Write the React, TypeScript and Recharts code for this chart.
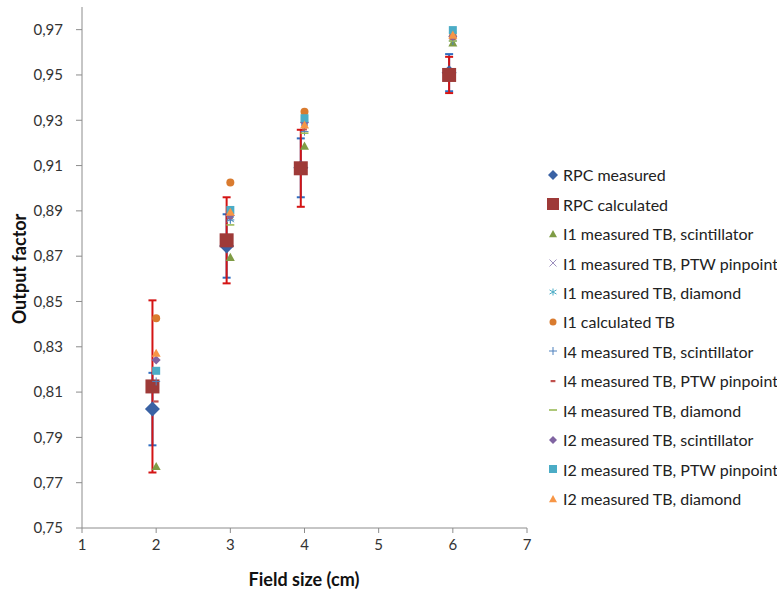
import React from 'react';
import { ScatterChart, Scatter, XAxis, YAxis, ErrorBar, Legend } from 'recharts';

// field sizes (cm); RPC points sit slightly left of the institution points
const sizes = [2, 3, 4, 6];
const rpcSizes = [1.95, 2.95, 3.95, 5.95];

const rpcMeasured = [0.8025, 0.8745, 0.909, 0.951];
const rpcMeasuredErr = [0.016, 0.014, 0.013, 0.0082];
const rpcCalculated = [0.8125, 0.877, 0.9088, 0.95];
const rpcCalculatedErr = [0.038, 0.019, 0.017, 0.008];

// null = no visible point at that field size
const i1Scintillator = [0.7772, 0.8695, 0.9186, 0.9642];
const i1Pinpoint = [null, 0.8865, 0.929, 0.967];
const i1Diamond = [null, 0.8862, 0.929, 0.968];
const i1Calculated = [0.8426, 0.9025, 0.9338, 0.967];
const i4Scintillator = [0.8147, 0.886, 0.925, 0.965];
const i4Pinpoint = [0.8059, 0.887, 0.926, 0.966];
const i4Diamond = [null, 0.8838, 0.9243, 0.965];
const i2Scintillator = [0.8242, 0.888, 0.929, 0.967];
const i2Pinpoint = [0.8194, 0.8904, 0.9309, 0.9698];
const i2Diamond = [0.8272, 0.8894, 0.9279, 0.9676];

const xTicks = [1, 2, 3, 4, 5, 6, 7];
const yTicks = [0.75, 0.77, 0.79, 0.81, 0.83, 0.85, 0.87, 0.89, 0.91, 0.93, 0.95, 0.97];

const FONT = 'Lato, "Noto Sans", sans-serif';

type Kind = 'diamond' | 'square' | 'triangle' | 'x' | 'star' | 'circle' | 'plus' | 'dash' | 'longdash';

function marker(kind: Kind, cx: number, cy: number, s: number, color: string) {
  const h = s / 2;
  switch (kind) {
    case 'diamond':
      return <polygon points={`${cx},${cy - h} ${cx + h},${cy} ${cx},${cy + h} ${cx - h},${cy}`} fill={color} />;
    case 'square':
      return <rect x={cx - h} y={cy - h} width={s} height={s} fill={color} />;
    case 'triangle':
      return <polygon points={`${cx},${cy - h} ${cx + h},${cy + h * 0.8} ${cx - h},${cy + h * 0.8}`} fill={color} />;
    case 'circle':
      return <circle cx={cx} cy={cy} r={h} fill={color} />;
    case 'x':
      return (
        <g stroke={color} strokeWidth={1}>
          <line x1={cx - h} y1={cy - h} x2={cx + h} y2={cy + h} />
          <line x1={cx - h} y1={cy + h} x2={cx + h} y2={cy - h} />
        </g>
      );
    case 'star':
      return (
        <g stroke={color} strokeWidth={1}>
          <line x1={cx} y1={cy - h} x2={cx} y2={cy + h} />
          <line x1={cx - h} y1={cy - h * 0.6} x2={cx + h} y2={cy + h * 0.6} />
          <line x1={cx - h} y1={cy + h * 0.6} x2={cx + h} y2={cy - h * 0.6} />
        </g>
      );
    case 'plus':
      return (
        <g stroke={color} strokeWidth={1}>
          <line x1={cx} y1={cy - h} x2={cx} y2={cy + h} />
          <line x1={cx - h} y1={cy} x2={cx + h} y2={cy} />
        </g>
      );
    case 'dash':
      return <rect x={cx - h * 0.6} y={cy - 1} width={s * 0.6} height={2.2} fill={color} />;
    case 'longdash':
      return <rect x={cx - h} y={cy - 0.8} width={s} height={1.6} fill={color} />;
  }
}

interface Series {
  name: string;
  xs: number[];
  ys: (number | null)[];
  err?: number[];
  errColor?: string;
  kind: Kind;
  color: string;
  size: number;
  legendSize: number;
}

const series: Series[] = [
  { name: 'RPC measured', xs: rpcSizes, ys: rpcMeasured, err: rpcMeasuredErr, errColor: '#2f6dc0', kind: 'diamond', color: '#3a62a4', size: 15, legendSize: 10 },
  { name: 'RPC calculated', xs: rpcSizes, ys: rpcCalculated, err: rpcCalculatedErr, errColor: '#d41414', kind: 'square', color: '#9e3a38', size: 14, legendSize: 12 },
  { name: 'I1 measured TB, scintillator', xs: sizes, ys: i1Scintillator, kind: 'triangle', color: '#7f9c45', size: 9, legendSize: 8 },
  { name: 'I1 measured TB, PTW pinpoint', xs: sizes, ys: i1Pinpoint, kind: 'x', color: '#9d8fbe', size: 7, legendSize: 7 },
  { name: 'I1 measured TB, diamond', xs: sizes, ys: i1Diamond, kind: 'star', color: '#4bacc6', size: 7, legendSize: 7 },
  { name: 'I1 calculated TB', xs: sizes, ys: i1Calculated, kind: 'circle', color: '#d97b2f', size: 8, legendSize: 7 },
  { name: 'I4 measured TB, scintillator', xs: sizes, ys: i4Scintillator, kind: 'plus', color: '#4f81bd', size: 8, legendSize: 8 },
  { name: 'I4 measured TB, PTW pinpoint', xs: sizes, ys: i4Pinpoint, kind: 'dash', color: '#c0504d', size: 8, legendSize: 8 },
  { name: 'I4 measured TB, diamond', xs: sizes, ys: i4Diamond, kind: 'longdash', color: '#9bbb59', size: 8, legendSize: 8 },
  { name: 'I2 measured TB, scintillator', xs: sizes, ys: i2Scintillator, kind: 'diamond', color: '#8064a2', size: 9, legendSize: 8 },
  { name: 'I2 measured TB, PTW pinpoint', xs: sizes, ys: i2Pinpoint, kind: 'square', color: '#4bacc6', size: 8, legendSize: 8 },
  { name: 'I2 measured TB, diamond', xs: sizes, ys: i2Diamond, kind: 'triangle', color: '#f79646', size: 9, legendSize: 8 },
];

const LegendBox = () => (
  <div style={{ fontFamily: FONT, fontSize: 16, color: '#222' }}>
    {series.map((s) => (
      <div key={s.name} style={{ height: 29.45, display: 'flex', alignItems: 'center', whiteSpace: 'nowrap' }}>
        <svg width={16} height={14} style={{ flex: 'none' }}>
          {marker(s.kind, 8, 7, s.legendSize, s.color)}
        </svg>
        <span style={{ marginLeft: 2 }}>{s.name}</span>
      </div>
    ))}
  </div>
);

const fmt = (v: number) => v.toFixed(2).replace('.', ',');

export default function App() {
  return (
    <div style={{ position: 'absolute', left: 0, top: 0, width: 777, height: 592, background: '#fff', overflow: 'hidden' }}>
      <ScatterChart width={777} height={592} margin={{ top: 7, right: 18, bottom: 0, left: 0 }}>
        <XAxis
          type="number"
          dataKey="x"
          domain={[1, 7]}
          ticks={xTicks}
          interval={0}
          height={64}
          tickSize={5}
          tickMargin={6}
          stroke="#8c8c8c"
          tick={{ fill: '#333', fontSize: 15, fontFamily: FONT }}
        />
        <YAxis
          type="number"
          dataKey="y"
          domain={[0.75, 0.98]}
          ticks={yTicks}
          interval={0}
          width={82}
          tickSize={6}
          tickMargin={13}
          tickFormatter={fmt}
          stroke="#8c8c8c"
          tick={{ fill: '#333', fontSize: 15, fontFamily: FONT }}
        />
        {series.map((s) => (
          <Scatter
            key={s.name}
            name={s.name}
            data={s.xs
              .map((x, i) => ({ x, y: s.ys[i], err: s.err ? s.err[i] : 0 }))
              .filter((d) => d.y !== null)}
            isAnimationActive={false}
            shape={(p: any) => marker(s.kind, p.cx, p.cy, s.size, s.color)}
          >
            {s.err && (
              <ErrorBar dataKey="err" direction="y" width={4} stroke={s.errColor} strokeWidth={2} />
            )}
          </Scatter>
        ))}
        <Legend
          layout="horizontal"
          align="right"
          verticalAlign="middle"
          content={() => <LegendBox />}
          wrapperStyle={{ left: 545, top: 160, width: 232 }}
        />
      </ScatterChart>
      <div
        style={{
          position: 'absolute',
          left: 19,
          top: 269,
          transform: 'translate(-50%, -50%) rotate(-90deg)',
          fontFamily: FONT,
          fontWeight: 'bold',
          fontSize: 18,
          color: '#111',
          whiteSpace: 'nowrap',
        }}
      >
        Output factor
      </div>
      <div
        style={{
          position: 'absolute',
          left: 304,
          top: 579,
          transform: 'translate(-50%, -50%)',
          fontFamily: FONT,
          fontWeight: 'bold',
          fontSize: 18,
          color: '#111',
          whiteSpace: 'nowrap',
        }}
      >
        Field size (cm)
      </div>
    </div>
  );
}
